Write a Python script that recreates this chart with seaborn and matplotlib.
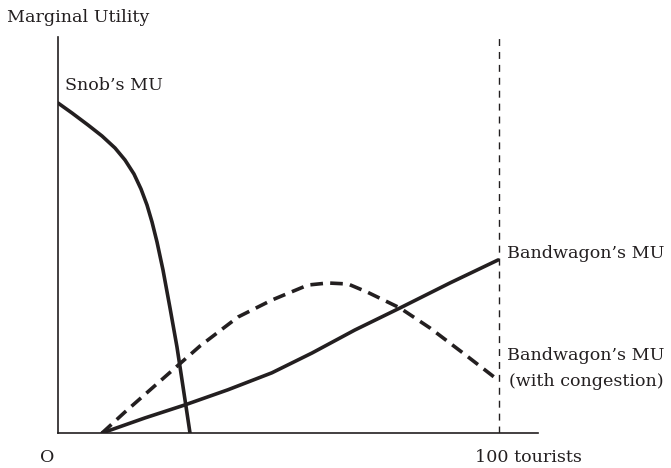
import numpy as np
import pandas as pd
import seaborn as sns
import matplotlib.pyplot as plt

# values (x = tourists, y = marginal utility, 0..100 scale)
snob_x = [0, 3.17, 6.80, 9.98, 12.93, 15.19, 17.23, 18.82, 20.18, 21.32, 22.45,
          23.81, 25.40, 26.98, 28.12, 29.25, 29.93]
snob_y = [83.33, 80.81, 77.78, 75.0, 71.97, 68.94, 65.40, 61.62, 57.58, 53.28,
          48.23, 41.16, 31.57, 21.72, 13.38, 5.05, 0]

band_x = [10.0, 19.7, 28.8, 38.5, 48.5, 57.6, 67.3, 77.6, 88.9, 99.8]
band_y = [0, 3.8, 7.1, 10.9, 15.2, 20.2, 26.0, 31.6, 37.9, 43.7]

cong_x = [10.0, 15.19, 20.86, 26.53, 32.20, 40.82, 48.53, 56.69, 61.22, 65.76,
          70.07, 77.55, 84.35, 91.84, 99.77]
cong_y = [0, 5.30, 10.86, 16.41, 21.97, 29.29, 33.59, 37.37, 37.88, 37.63,
          35.61, 31.57, 26.52, 20.20, 13.38]

max_tourists = 100

sns.set_theme(style="white")
plt.rcParams['font.family'] = ['DejaVu Serif']

W, H = 671, 468
ink = "#231f20"
fig = plt.figure(figsize=(W / 100, H / 100), dpi=100)
ax = fig.add_axes([58 / W, 35 / H, 480 / W, 396 / H])

snob = pd.DataFrame({"x": snob_x, "y": snob_y})
band = pd.DataFrame({"x": band_x, "y": band_y})
cong = pd.DataFrame({"x": cong_x, "y": cong_y})

sns.lineplot(data=snob, x="x", y="y", sort=False, color=ink, lw=2.6, ax=ax)
sns.lineplot(data=band, x="x", y="y", sort=False, color=ink, lw=2.6, ax=ax)
sns.lineplot(data=cong, x="x", y="y", sort=False, color=ink, lw=2.6,
             ax=ax, linestyle=(0, (3.5, 2.0)))
ax.axvline(max_tourists, ymax=0.997, color=ink, lw=1.0, linestyle=(0, (5, 4.3)))

ax.set_xlim(0, 480 / 4.41)
ax.set_ylim(0, 100)
ax.set_xticks([])
ax.set_yticks([])
ax.set_xlabel("")
ax.set_ylabel("")
for s in ["top", "right"]:
    ax.spines[s].set_visible(False)
for s in ["left", "bottom"]:
    ax.spines[s].set_color(ink)
    ax.spines[s].set_linewidth(1.2)

def label(px, py, txt, **kw):
    fig.text(px / W, 1 - py / H, txt, va="center", ha="left", fontsize=12.6,
             color=ink, **kw)

label(7, 17, "Marginal Utility")
label(65, 85, "Snob\u2019s MU")
label(507, 253, "Bandwagon\u2019s MU")
label(507, 355, "Bandwagon\u2019s MU")
label(509, 381, "(with congestion)")
label(40, 457, "O")
label(475, 457, "100 tourists")

fig.savefig("out.png", dpi=100)
